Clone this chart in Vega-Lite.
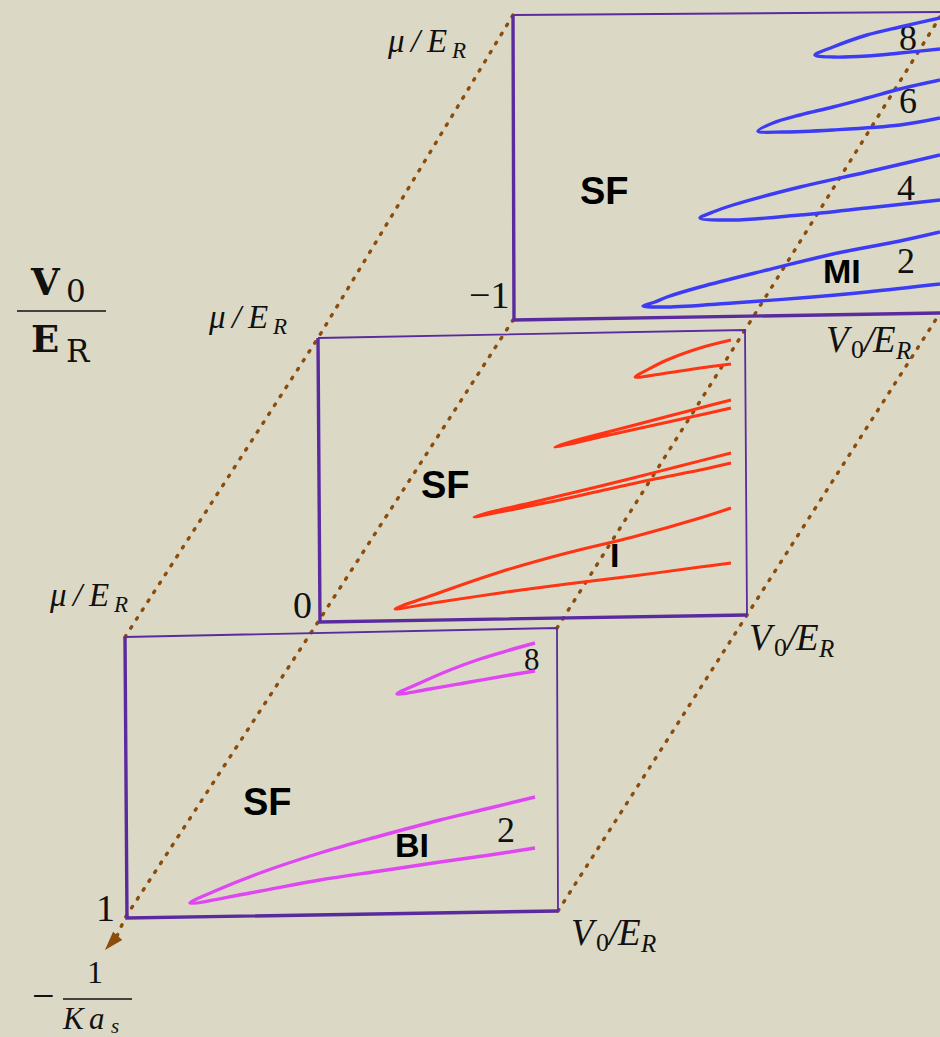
{
  "$schema": "https://vega.github.io/schema/vega-lite/v6.json",
  "width": 940,
  "height": 1037,
  "autosize": {"type": "none"},
  "padding": 0,
  "background": "#dbd9c5",
  "config": {"view": {"stroke": null}},
  "datasets": {
    "guides": [
      {"g": "A", "i": 0, "x": 125, "y": 637}, {"g": "A", "i": 1, "x": 318, "y": 338}, {"g": "A", "i": 2, "x": 513, "y": 15},
      {"g": "B", "i": 0, "x": 117, "y": 936}, {"g": "B", "i": 1, "x": 125, "y": 918}, {"g": "B", "i": 2, "x": 318, "y": 622}, {"g": "B", "i": 3, "x": 513, "y": 320},
      {"g": "C", "i": 0, "x": 558, "y": 911}, {"g": "C", "i": 1, "x": 747, "y": 615}, {"g": "C", "i": 2, "x": 940, "y": 313},
      {"g": "D", "i": 0, "x": 557, "y": 628}, {"g": "D", "i": 1, "x": 745, "y": 330}, {"g": "D", "i": 2, "x": 940, "y": 17}
    ],
    "arrow": [{"x": 111.3, "y": 943}],
    "boxes": [
      {"b": "top", "e": "heavy", "i": 0, "x": 513, "y": 15}, {"b": "top", "e": "heavy", "i": 1, "x": 514, "y": 320}, {"b": "top", "e": "heavy", "i": 2, "x": 940, "y": 313},
      {"b": "top", "e": "light", "i": 0, "x": 513, "y": 15}, {"b": "top", "e": "light", "i": 1, "x": 940, "y": 12},
      {"b": "mid", "e": "heavy", "i": 0, "x": 318, "y": 338}, {"b": "mid", "e": "heavy", "i": 1, "x": 320, "y": 622}, {"b": "mid", "e": "heavy", "i": 2, "x": 747, "y": 615},
      {"b": "mid", "e": "light", "i": 0, "x": 318, "y": 338}, {"b": "mid", "e": "light", "i": 1, "x": 745, "y": 330}, {"b": "mid", "e": "light", "i": 2, "x": 747, "y": 615},
      {"b": "bot", "e": "heavy", "i": 0, "x": 125, "y": 637}, {"b": "bot", "e": "heavy", "i": 1, "x": 127, "y": 918}, {"b": "bot", "e": "heavy", "i": 2, "x": 558, "y": 911},
      {"b": "bot", "e": "light", "i": 0, "x": 125, "y": 637}, {"b": "bot", "e": "light", "i": 1, "x": 557, "y": 628}, {"b": "bot", "e": "light", "i": 2, "x": 558, "y": 911}
    ],
    "curves": [
      {"f": "MI", "s": "b2", "i": 0, "x": 940, "y": 232}, {"f": "MI", "s": "b2", "i": 1, "x": 900, "y": 241}, {"f": "MI", "s": "b2", "i": 2, "x": 833, "y": 254}, {"f": "MI", "s": "b2", "i": 3, "x": 767, "y": 270}, {"f": "MI", "s": "b2", "i": 4, "x": 700, "y": 287}, {"f": "MI", "s": "b2", "i": 5, "x": 667, "y": 297}, {"f": "MI", "s": "b2", "i": 6, "x": 655, "y": 302}, {"f": "MI", "s": "b2", "i": 7, "x": 643, "y": 306}, {"f": "MI", "s": "b2", "i": 8, "x": 667, "y": 307}, {"f": "MI", "s": "b2", "i": 9, "x": 733, "y": 303}, {"f": "MI", "s": "b2", "i": 10, "x": 800, "y": 298}, {"f": "MI", "s": "b2", "i": 11, "x": 867, "y": 292}, {"f": "MI", "s": "b2", "i": 12, "x": 940, "y": 284},
      {"f": "MI", "s": "b4", "i": 0, "x": 940, "y": 155}, {"f": "MI", "s": "b4", "i": 1, "x": 867, "y": 172}, {"f": "MI", "s": "b4", "i": 2, "x": 800, "y": 187}, {"f": "MI", "s": "b4", "i": 3, "x": 733, "y": 205}, {"f": "MI", "s": "b4", "i": 4, "x": 713, "y": 212}, {"f": "MI", "s": "b4", "i": 5, "x": 700, "y": 218}, {"f": "MI", "s": "b4", "i": 6, "x": 733, "y": 220}, {"f": "MI", "s": "b4", "i": 7, "x": 800, "y": 215}, {"f": "MI", "s": "b4", "i": 8, "x": 867, "y": 208}, {"f": "MI", "s": "b4", "i": 9, "x": 940, "y": 200},
      {"f": "MI", "s": "b6", "i": 0, "x": 940, "y": 80}, {"f": "MI", "s": "b6", "i": 1, "x": 900, "y": 89}, {"f": "MI", "s": "b6", "i": 2, "x": 867, "y": 98}, {"f": "MI", "s": "b6", "i": 3, "x": 833, "y": 107}, {"f": "MI", "s": "b6", "i": 4, "x": 800, "y": 115}, {"f": "MI", "s": "b6", "i": 5, "x": 773, "y": 123}, {"f": "MI", "s": "b6", "i": 6, "x": 758, "y": 131}, {"f": "MI", "s": "b6", "i": 7, "x": 783, "y": 132}, {"f": "MI", "s": "b6", "i": 8, "x": 833, "y": 130}, {"f": "MI", "s": "b6", "i": 9, "x": 900, "y": 125}, {"f": "MI", "s": "b6", "i": 10, "x": 940, "y": 118},
      {"f": "MI", "s": "b8", "i": 0, "x": 940, "y": 18}, {"f": "MI", "s": "b8", "i": 1, "x": 900, "y": 27}, {"f": "MI", "s": "b8", "i": 2, "x": 867, "y": 35}, {"f": "MI", "s": "b8", "i": 3, "x": 833, "y": 47}, {"f": "MI", "s": "b8", "i": 4, "x": 815, "y": 55}, {"f": "MI", "s": "b8", "i": 5, "x": 833, "y": 57}, {"f": "MI", "s": "b8", "i": 6, "x": 867, "y": 56}, {"f": "MI", "s": "b8", "i": 7, "x": 900, "y": 53}, {"f": "MI", "s": "b8", "i": 8, "x": 940, "y": 49},
      {"f": "I", "s": "r1", "i": 0, "x": 731, "y": 508}, {"f": "I", "s": "r1", "i": 1, "x": 700, "y": 518}, {"f": "I", "s": "r1", "i": 2, "x": 633, "y": 537}, {"f": "I", "s": "r1", "i": 3, "x": 567, "y": 553}, {"f": "I", "s": "r1", "i": 4, "x": 500, "y": 572}, {"f": "I", "s": "r1", "i": 5, "x": 433, "y": 595}, {"f": "I", "s": "r1", "i": 6, "x": 395, "y": 609}, {"f": "I", "s": "r1", "i": 7, "x": 433, "y": 603}, {"f": "I", "s": "r1", "i": 8, "x": 500, "y": 593}, {"f": "I", "s": "r1", "i": 9, "x": 567, "y": 584}, {"f": "I", "s": "r1", "i": 10, "x": 633, "y": 576}, {"f": "I", "s": "r1", "i": 11, "x": 700, "y": 567}, {"f": "I", "s": "r1", "i": 12, "x": 731, "y": 563},
      {"f": "I", "s": "r2", "i": 0, "x": 731, "y": 453}, {"f": "I", "s": "r2", "i": 1, "x": 680, "y": 466}, {"f": "I", "s": "r2", "i": 2, "x": 633, "y": 478}, {"f": "I", "s": "r2", "i": 3, "x": 580, "y": 491}, {"f": "I", "s": "r2", "i": 4, "x": 530, "y": 503}, {"f": "I", "s": "r2", "i": 5, "x": 495, "y": 511}, {"f": "I", "s": "r2", "i": 6, "x": 474, "y": 517}, {"f": "I", "s": "r2", "i": 7, "x": 500, "y": 512}, {"f": "I", "s": "r2", "i": 8, "x": 550, "y": 502}, {"f": "I", "s": "r2", "i": 9, "x": 600, "y": 491}, {"f": "I", "s": "r2", "i": 10, "x": 650, "y": 480}, {"f": "I", "s": "r2", "i": 11, "x": 700, "y": 470}, {"f": "I", "s": "r2", "i": 12, "x": 731, "y": 463},
      {"f": "I", "s": "r3", "i": 0, "x": 731, "y": 400}, {"f": "I", "s": "r3", "i": 1, "x": 700, "y": 408}, {"f": "I", "s": "r3", "i": 2, "x": 650, "y": 421}, {"f": "I", "s": "r3", "i": 3, "x": 600, "y": 434}, {"f": "I", "s": "r3", "i": 4, "x": 570, "y": 442}, {"f": "I", "s": "r3", "i": 5, "x": 555, "y": 447}, {"f": "I", "s": "r3", "i": 6, "x": 570, "y": 444}, {"f": "I", "s": "r3", "i": 7, "x": 600, "y": 437}, {"f": "I", "s": "r3", "i": 8, "x": 650, "y": 426}, {"f": "I", "s": "r3", "i": 9, "x": 700, "y": 415}, {"f": "I", "s": "r3", "i": 10, "x": 731, "y": 408},
      {"f": "I", "s": "r4", "i": 0, "x": 731, "y": 340}, {"f": "I", "s": "r4", "i": 1, "x": 700, "y": 348}, {"f": "I", "s": "r4", "i": 2, "x": 667, "y": 360}, {"f": "I", "s": "r4", "i": 3, "x": 647, "y": 370}, {"f": "I", "s": "r4", "i": 4, "x": 635, "y": 377}, {"f": "I", "s": "r4", "i": 5, "x": 667, "y": 373}, {"f": "I", "s": "r4", "i": 6, "x": 700, "y": 368}, {"f": "I", "s": "r4", "i": 7, "x": 731, "y": 364},
      {"f": "BI", "s": "m8", "i": 0, "x": 535, "y": 643}, {"f": "BI", "s": "m8", "i": 1, "x": 510, "y": 650}, {"f": "BI", "s": "m8", "i": 2, "x": 480, "y": 659}, {"f": "BI", "s": "m8", "i": 3, "x": 450, "y": 670}, {"f": "BI", "s": "m8", "i": 4, "x": 420, "y": 683}, {"f": "BI", "s": "m8", "i": 5, "x": 397, "y": 694}, {"f": "BI", "s": "m8", "i": 6, "x": 430, "y": 689}, {"f": "BI", "s": "m8", "i": 7, "x": 470, "y": 682}, {"f": "BI", "s": "m8", "i": 8, "x": 510, "y": 675}, {"f": "BI", "s": "m8", "i": 9, "x": 535, "y": 671},
      {"f": "BI", "s": "m2", "i": 0, "x": 535, "y": 797}, {"f": "BI", "s": "m2", "i": 1, "x": 490, "y": 808}, {"f": "BI", "s": "m2", "i": 2, "x": 440, "y": 820}, {"f": "BI", "s": "m2", "i": 3, "x": 380, "y": 836}, {"f": "BI", "s": "m2", "i": 4, "x": 320, "y": 853}, {"f": "BI", "s": "m2", "i": 5, "x": 260, "y": 873}, {"f": "BI", "s": "m2", "i": 6, "x": 215, "y": 891}, {"f": "BI", "s": "m2", "i": 7, "x": 190, "y": 903}, {"f": "BI", "s": "m2", "i": 8, "x": 250, "y": 893}, {"f": "BI", "s": "m2", "i": 9, "x": 320, "y": 880}, {"f": "BI", "s": "m2", "i": 10, "x": 380, "y": 871}, {"f": "BI", "s": "m2", "i": 11, "x": 440, "y": 862}, {"f": "BI", "s": "m2", "i": 12, "x": 490, "y": 855}, {"f": "BI", "s": "m2", "i": 13, "x": 535, "y": 848}
    ],
    "bars": [
      {"x": 17, "x2": 106, "y": 311},
      {"x": 63, "x2": 132, "y": 999}
    ],
    "labels": [
      {"k": "mu", "t": "μ", "x": 388, "y": 52}, {"k": "mu", "t": "/", "x": 411, "y": 52}, {"k": "mu", "t": "E", "x": 427, "y": 52},
      {"k": "mu", "t": "μ", "x": 209, "y": 328}, {"k": "mu", "t": "/", "x": 232, "y": 328}, {"k": "mu", "t": "E", "x": 248, "y": 328},
      {"k": "mu", "t": "μ", "x": 50, "y": 606}, {"k": "mu", "t": "/", "x": 73, "y": 606}, {"k": "mu", "t": "E", "x": 89, "y": 606},
      {"k": "musub", "t": "R", "x": 452, "y": 58}, {"k": "musub", "t": "R", "x": 273, "y": 334}, {"k": "musub", "t": "R", "x": 114, "y": 612},
      {"k": "v", "t": "V", "x": 826, "y": 352}, {"k": "v", "t": "/", "x": 864, "y": 352}, {"k": "v", "t": "E", "x": 873, "y": 352},
      {"k": "v", "t": "V", "x": 749, "y": 650}, {"k": "v", "t": "/", "x": 787, "y": 650}, {"k": "v", "t": "E", "x": 796, "y": 650},
      {"k": "v", "t": "V", "x": 571, "y": 945}, {"k": "v", "t": "/", "x": 609, "y": 945}, {"k": "v", "t": "E", "x": 618, "y": 945},
      {"k": "vsub", "t": "R", "x": 896, "y": 359}, {"k": "vsub", "t": "R", "x": 819, "y": 657}, {"k": "vsub", "t": "R", "x": 641, "y": 952},
      {"k": "vzero", "t": "0", "x": 851, "y": 358}, {"k": "vzero", "t": "0", "x": 774, "y": 656}, {"k": "vzero", "t": "0", "x": 596, "y": 951},
      {"k": "num", "t": "−1", "x": 469, "y": 308}, {"k": "num", "t": "0", "x": 293, "y": 618}, {"k": "num", "t": "1", "x": 96, "y": 921},
      {"k": "loop", "t": "8", "x": 899, "y": 50}, {"k": "loop", "t": "6", "x": 899, "y": 113}, {"k": "loop", "t": "4", "x": 897, "y": 200}, {"k": "loop", "t": "2", "x": 897, "y": 273}, {"k": "loop", "t": "2", "x": 497, "y": 842},
      {"k": "loopS", "t": "8", "x": 524, "y": 670},
      {"k": "sf", "t": "SF", "x": 580, "y": 204}, {"k": "sf", "t": "SF", "x": 421, "y": 498}, {"k": "sf", "t": "SF", "x": 243, "y": 815},
      {"k": "ph", "t": "MI", "x": 823, "y": 283}, {"k": "ph", "t": "I", "x": 610, "y": 567}, {"k": "ph", "t": "BI", "x": 395, "y": 857},
      {"k": "tt", "t": "V", "x": 31, "y": 295}, {"k": "tt", "t": "E", "x": 31, "y": 352},
      {"k": "ttsub", "t": "0", "x": 66, "y": 302}, {"k": "ttsub", "t": "R", "x": 66, "y": 362},
      {"k": "fr", "t": "1", "x": 87, "y": 983},
      {"k": "frm", "t": "−", "x": 32, "y": 1009},
      {"k": "frI", "t": "K", "x": 63, "y": 1029}, {"k": "frI", "t": "a", "x": 89, "y": 1029},
      {"k": "frS", "t": "s", "x": 111, "y": 1033}
    ]
  },
  "encoding": {
    "x": {"field": "x", "type": "quantitative", "scale": {"domain": [0, 940], "nice": false, "zero": false}, "axis": null},
    "y": {"field": "y", "type": "quantitative", "scale": {"domain": [0, 1037], "nice": false, "zero": false, "reverse": true}, "axis": null}
  },
  "layer": [
    {"data": {"name": "labels"}, "transform": [{"filter": "datum.k === 'mu'"}],
     "mark": {"type": "text", "font": "Liberation Serif", "fontStyle": "italic", "fontSize": 33, "align": "left", "baseline": "alphabetic", "color": "#111111"},
     "encoding": {"text": {"field": "t"}}},
    {"data": {"name": "labels"}, "transform": [{"filter": "datum.k === 'musub'"}],
     "mark": {"type": "text", "font": "Liberation Serif", "fontStyle": "italic", "fontSize": 23, "align": "left", "baseline": "alphabetic", "color": "#111111"},
     "encoding": {"text": {"field": "t"}}},
    {"data": {"name": "labels"}, "transform": [{"filter": "datum.k === 'v'"}],
     "mark": {"type": "text", "font": "Liberation Serif", "fontStyle": "italic", "fontSize": 37, "align": "left", "baseline": "alphabetic", "color": "#111111"},
     "encoding": {"text": {"field": "t"}}},
    {"data": {"name": "labels"}, "transform": [{"filter": "datum.k === 'vsub'"}],
     "mark": {"type": "text", "font": "Liberation Serif", "fontStyle": "italic", "fontSize": 25, "align": "left", "baseline": "alphabetic", "color": "#111111"},
     "encoding": {"text": {"field": "t"}}},
    {"data": {"name": "labels"}, "transform": [{"filter": "datum.k === 'vzero'"}],
     "mark": {"type": "text", "font": "Liberation Serif", "fontSize": 26, "align": "left", "baseline": "alphabetic", "color": "#111111"},
     "encoding": {"text": {"field": "t"}}},
    {"data": {"name": "labels"}, "transform": [{"filter": "datum.k === 'num'"}],
     "mark": {"type": "text", "font": "Liberation Serif", "fontSize": 38, "align": "left", "baseline": "alphabetic", "color": "#111111"},
     "encoding": {"text": {"field": "t"}}},
    {"data": {"name": "labels"}, "transform": [{"filter": "datum.k === 'loop'"}],
     "mark": {"type": "text", "font": "Liberation Serif", "fontSize": 36, "align": "left", "baseline": "alphabetic", "color": "#111111"},
     "encoding": {"text": {"field": "t"}}},
    {"data": {"name": "labels"}, "transform": [{"filter": "datum.k === 'loopS'"}],
     "mark": {"type": "text", "font": "Liberation Serif", "fontSize": 31, "align": "left", "baseline": "alphabetic", "color": "#111111"},
     "encoding": {"text": {"field": "t"}}},
    {"data": {"name": "labels"}, "transform": [{"filter": "datum.k === 'sf'"}],
     "mark": {"type": "text", "font": "Liberation Sans", "fontWeight": "bold", "fontSize": 38, "align": "left", "baseline": "alphabetic", "color": "#000000"},
     "encoding": {"text": {"field": "t"}}},
    {"data": {"name": "labels"}, "transform": [{"filter": "datum.k === 'ph'"}],
     "mark": {"type": "text", "font": "Liberation Sans", "fontWeight": "bold", "fontSize": 34, "align": "left", "baseline": "alphabetic", "color": "#000000"},
     "encoding": {"text": {"field": "t"}}},
    {"data": {"name": "labels"}, "transform": [{"filter": "datum.k === 'tt'"}],
     "mark": {"type": "text", "font": "DejaVu Serif", "fontWeight": "bold", "fontSize": 37, "align": "left", "baseline": "alphabetic", "color": "#111111"},
     "encoding": {"text": {"field": "t"}}},
    {"data": {"name": "labels"}, "transform": [{"filter": "datum.k === 'ttsub'"}],
     "mark": {"type": "text", "font": "DejaVu Serif", "fontSize": 31, "align": "left", "baseline": "alphabetic", "color": "#111111"},
     "encoding": {"text": {"field": "t"}}},
    {"data": {"name": "labels"}, "transform": [{"filter": "datum.k === 'fr'"}],
     "mark": {"type": "text", "font": "Liberation Serif", "fontSize": 32, "align": "left", "baseline": "alphabetic", "color": "#111111"},
     "encoding": {"text": {"field": "t"}}},
    {"data": {"name": "labels"}, "transform": [{"filter": "datum.k === 'frm'"}],
     "mark": {"type": "text", "font": "Liberation Serif", "fontSize": 40, "align": "left", "baseline": "alphabetic", "color": "#111111"},
     "encoding": {"text": {"field": "t"}}},
    {"data": {"name": "labels"}, "transform": [{"filter": "datum.k === 'frI'"}],
     "mark": {"type": "text", "font": "Liberation Serif", "fontStyle": "italic", "fontSize": 31, "align": "left", "baseline": "alphabetic", "color": "#111111"},
     "encoding": {"text": {"field": "t"}}},
    {"data": {"name": "labels"}, "transform": [{"filter": "datum.k === 'frS'"}],
     "mark": {"type": "text", "font": "Liberation Serif", "fontStyle": "italic", "fontSize": 21, "align": "left", "baseline": "alphabetic", "color": "#111111"},
     "encoding": {"text": {"field": "t"}}},
    {"data": {"name": "bars"},
     "mark": {"type": "rule", "color": "#111111", "strokeWidth": 1.6},
     "encoding": {"x2": {"field": "x2"}}},
    {"data": {"name": "guides"},
     "mark": {"type": "line", "color": "#8b4c0c", "strokeWidth": 3.4, "strokeDash": [1.6, 9], "strokeCap": "round"},
     "encoding": {"detail": {"field": "g"}, "order": {"field": "i", "type": "quantitative"}}},
    {"data": {"name": "arrow"},
     "mark": {"type": "point", "shape": "M-0.65,-1L0.65,-1L0,1Z", "filled": true, "color": "#8b4c0c", "opacity": 1, "size": 361, "angle": 42}},
    {"data": {"name": "boxes"}, "transform": [{"filter": "datum.e === 'light'"}],
     "mark": {"type": "line", "color": "#5a2b9e", "strokeWidth": 1.8},
     "encoding": {"detail": {"field": "b"}, "order": {"field": "i", "type": "quantitative"}}},
    {"data": {"name": "boxes"}, "transform": [{"filter": "datum.e === 'heavy'"}],
     "mark": {"type": "line", "color": "#5a2b9e", "strokeWidth": 3.4},
     "encoding": {"detail": {"field": "b"}, "order": {"field": "i", "type": "quantitative"}}},
    {"data": {"name": "curves"}, "transform": [{"filter": "datum.f === 'MI'"}],
     "mark": {"type": "line", "color": "#3c3cf5", "strokeWidth": 3.4, "interpolate": "catmull-rom"},
     "encoding": {"detail": {"field": "s"}, "order": {"field": "i", "type": "quantitative"}}},
    {"data": {"name": "curves"}, "transform": [{"filter": "datum.f === 'I'"}],
     "mark": {"type": "line", "color": "#ff3414", "strokeWidth": 3, "interpolate": "catmull-rom"},
     "encoding": {"detail": {"field": "s"}, "order": {"field": "i", "type": "quantitative"}}},
    {"data": {"name": "curves"}, "transform": [{"filter": "datum.f === 'BI'"}],
     "mark": {"type": "line", "color": "#df47f2", "strokeWidth": 3.4, "interpolate": "catmull-rom"},
     "encoding": {"detail": {"field": "s"}, "order": {"field": "i", "type": "quantitative"}}}
  ]
}
